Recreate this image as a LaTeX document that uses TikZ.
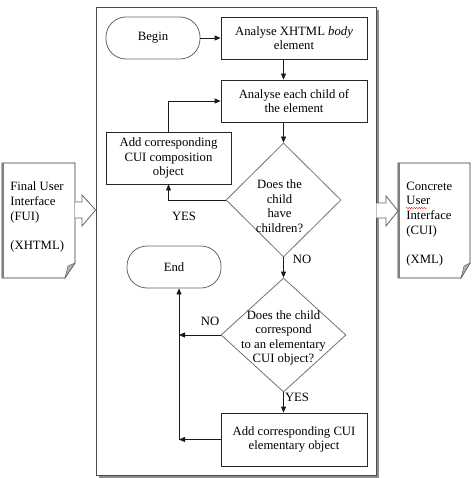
\documentclass[tikz,border=0pt]{standalone}
\usepackage{fontspec}
\setmainfont{Liberation Serif}
\usetikzlibrary{shapes.geometric,arrows.meta,decorations.pathmorphing}
\tikzset{
  box/.style={draw=black!85, minimum width=146pt, minimum height=42pt, align=center, inner sep=2pt},
  term/.style={draw=black!60, rounded corners=20pt, minimum width=94pt, minimum height=42pt},
  decision/.style={diamond, draw=black!55, inner sep=0pt},
  flow/.style={-{Triangle[length=6pt,width=5pt]}, black!90},
  doc/.style={draw=black!80, fill=white},
  fold/.style={fill=black!30, draw=black!60, line width=0.5pt},
  bigarrow/.style={draw=black!60, fill=white}
}
\begin{document}
\begin{tikzpicture}[x=1pt, y=-1pt, line width=0.8pt, font=\fontsize{12.7}{14.6}\selectfont]
    \useasboundingbox (0,0) rectangle (474,478);

    % 1. Khung chính (có bóng)
    \fill[black!45] (99,10) rectangle (379,478);
    \node[draw=black!70, fill=white, minimum width=280pt, minimum height=468pt, inner sep=0pt] (frame) at (236,241) {};

    % 2. Các bước của thuật toán
    \node[term] (begin) at (153,38) {Begin};
    \node[box] (body) at (294,38) {Analyse XHTML \textit{body}\\element};
    \node[box] (child) at (294,101) {Analyse each child of\\the element};
    \node[box, minimum width=125pt, minimum height=52pt] (comp) at (168.5,158) {Add corresponding\\CUI composition\\object};
    \node[decision, minimum width=115pt, minimum height=114pt,
          label={[align=center, yshift=-6pt, xshift=-4pt]center:{Does the\\child\\have\\children?}}] (haschild) at (283.5,200) {};
    \node[term] (end) at (174,267) {End};
    \node[decision, minimum width=125pt, minimum height=114pt,
          label={[align=center, yshift=-3pt]center:{Does the child\\correspond\\to an elementary\\CUI object?}}] (corresp) at (283.5,335) {};
    \node[box, minimum height=53pt] (elem) at (294,439.5) {Add corresponding CUI\\elementary object};

    % 3. Các mũi tên nối (trục dọc đi qua đỉnh hai hình thoi)
    \draw[flow] (begin) -- (body);
    \draw[flow] (body.south -| haschild.north) -- (child.north -| haschild.north);
    \draw[flow] (child.south -| haschild.north) -- (haschild.north);
    \draw[flow] (haschild.west) -| (comp.south);
    \draw[flow] (comp.north) |- (child.west);
    \draw[flow] (haschild.south) -- (corresp.north);
    \draw[flow] (corresp.south) -- (elem.north -| corresp.south);
    \coordinate (merge) at ([xshift=5pt]end.south |- elem.west);
    \draw[flow] (elem.west) -- (merge);
    \draw[flow] (corresp.west) -- (corresp.west -| merge);
    \draw[flow] (merge) -- ([xshift=5pt]end.south);

    % 4. Nhãn YES / NO
    \node (yes1) at (184,216) {YES};
    \node (no1) at (302,259) {NO};
    \node (no2) at (210,321) {NO};
    \node (yes2) at (297,397) {YES};

    % 5. Hai tài liệu vào / ra
    \draw[doc] (2,163) -- (75,163) -- (75,263) -- (65,278) -- (2,278) -- cycle;
    \draw[black!50, line width=2pt] (3,163) -- (3,278);
    \draw[fold] (65,278) -- (68,266) -- (75,263) -- cycle;
    \node[align=left, anchor=west, inner sep=0pt] (fui) at (10,217) {Final User\\Interface\\(FUI)\\[14.6pt](XHTML)};

    \draw[doc] (398,163) -- (470,163) -- (470,263) -- (461,278) -- (398,278) -- cycle;
    \draw[black!50, line width=2pt] (399,163) -- (399,278);
    \draw[fold] (461,278) -- (464,266) -- (470,263) -- cycle;
    \node[align=left, anchor=west, inner sep=0pt] (cui) at (406,224) {Concrete\\User\\Interface\\(CUI)\\[14.6pt](XML)};
    \draw[red, line width=0.4pt, decorate, decoration={snake, amplitude=0.6pt, segment length=2.5pt}] (406,208) -- (427,208);

    % 6. Mũi tên khối
    \coordinate (intip) at (frame.west |- 0,210);
    \draw[bigarrow] (75,202) -- (82,202) -- (82,195) -- (intip) -- (82,226) -- (82,218) -- (75,218);
    \coordinate (outbase) at (frame.east |- 0,211);
    \draw[bigarrow] (outbase |- 0,203) -- (386,203) -- (386,196) -- (398,211) -- (386,226) -- (386,218) -- (outbase |- 0,218);
\end{tikzpicture}
\end{document}
